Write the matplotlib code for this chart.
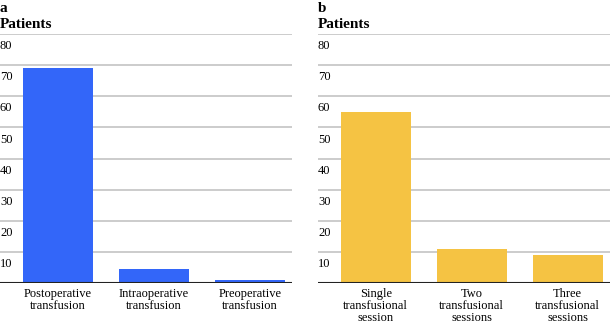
import matplotlib.pyplot as plt
from matplotlib.transforms import blended_transform_factory

plt.rcParams['font.family'] = ['Liberation Serif', 'DejaVu Serif']

cats_a = ['Postoperative\ntransfusion', 'Intraoperative\ntransfusion', 'Preoperative\ntransfusion']
vals_a = [69, 4.5, 1]
cats_b = ['Single\ntransfusional\nsession', 'Two\ntransfusional\nsessions', 'Three\ntransfusional\nsessions']
vals_b = [55, 11, 9]
yticks = [10, 20, 30, 40, 50, 60, 70, 80]

fig = plt.figure(figsize=(6.1, 3.25), dpi=100)
ax1 = fig.add_axes([0.0, 42 / 325, 292 / 610, 249 / 325])
ax2 = fig.add_axes([318 / 610, 42 / 325, 292 / 610, 249 / 325])


def panel(ax, letter, cats, vals, color):
    x = range(len(cats))
    for v in yticks:
        ax.axhline(v, color='#c4c4c4', lw=1.2, zorder=0)
    ax.bar(x, vals, width=0.73, color=color, zorder=2)
    ax.axhline(0, color='#222222', lw=1.5, zorder=3)
    ax.set_xlim(-0.6, 2.44)
    ax.set_ylim(0, 80)
    for s in ax.spines.values():
        s.set_visible(False)
    ax.set_yticks([])
    ax.set_xticks(list(x))
    ax.set_xticklabels(cats, fontsize=9, linespacing=0.98)
    ax.tick_params(axis='x', length=0, pad=3.5)
    tr = blended_transform_factory(ax.transAxes, ax.transData)
    for v in yticks:
        ax.annotate(str(v), xy=(0, v), xycoords=tr, xytext=(0, -4.5),
                    textcoords='offset points', va='top', ha='left', fontsize=9)
    ax.annotate('Patients', xy=(0, 1), xycoords='axes fraction', xytext=(0, 4.5),
                textcoords='offset points', fontsize=11, fontweight='bold',
                va='baseline', ha='left')
    ax.annotate(letter, xy=(0, 1), xycoords='axes fraction', xytext=(0, 15.5),
                textcoords='offset points', fontsize=11, fontweight='bold',
                va='baseline', ha='left')


panel(ax1, 'a', cats_a, vals_a, '#3366f9')
panel(ax2, 'b', cats_b, vals_b, '#f5c343')

fig.savefig('out.png', dpi=100)
